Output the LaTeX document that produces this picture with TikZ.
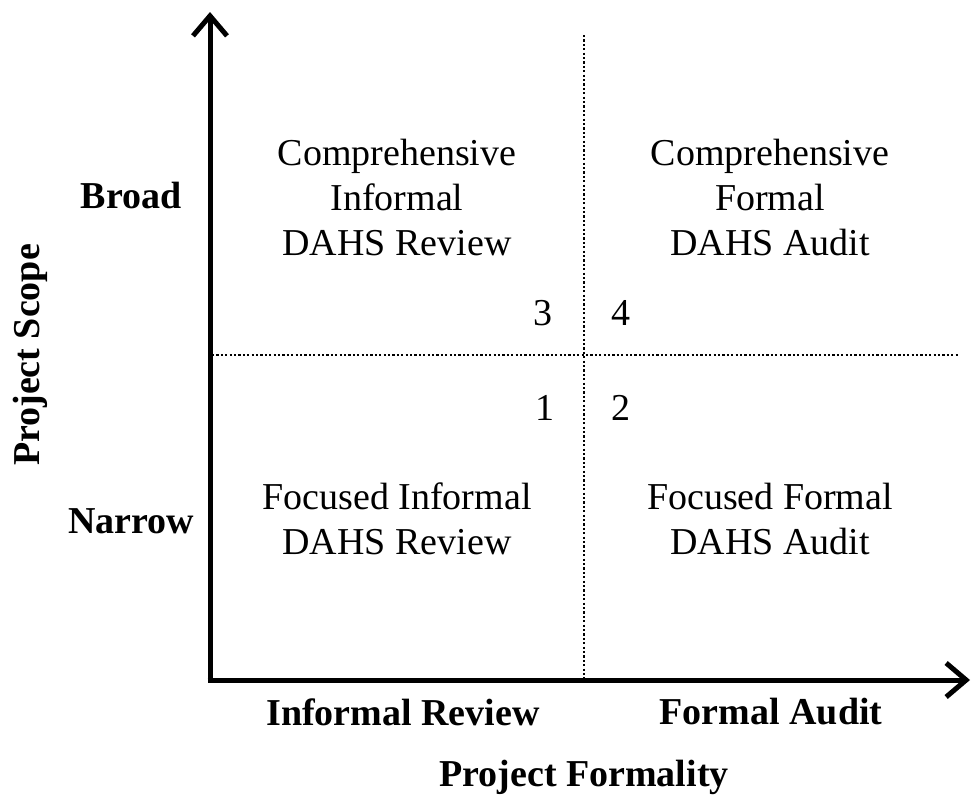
\documentclass[tikz,border=0pt]{standalone}
\usepackage{fontspec}
\setmainfont{Liberation Serif}
\usetikzlibrary{arrows.meta}
\begin{document}
\begin{tikzpicture}[x=1pt,y=-1pt,
  axis/.style={line width=5pt,-{Straight Barb[length=20pt,width=34pt,line width=5pt]}},
  grid/.style={line width=2.2pt,dash pattern=on 2.2pt off 2.2pt},
  cell/.style={align=center,font=\fontsize{38}{45}\selectfont,inner sep=0pt},
  num/.style={font=\fontsize{38}{44}\selectfont,inner sep=0pt},
  lab/.style={font=\fontsize{38}{44}\selectfont\bfseries,inner sep=0pt}]
\useasboundingbox (0,0) rectangle (972,795);
% axes
\coordinate (o) at (210,680);
\coordinate (ytop) at (210,12);
\coordinate (xend) at (970,680);
\draw[axis] (o) -- (ytop);
\draw[axis] ([xshift=-2.5pt]o) -- (xend);
% dividing lines
\coordinate (vtop) at (584,35);
\coordinate (vbot) at (584,680);
\coordinate (hl) at (212,355);
\coordinate (hr) at (958,355);
\draw[grid] (vtop) -- (vbot);
\draw[grid] (hl) -- (hr);
% quadrant texts
\node[cell] (q3) at (397,197) {Comprehensive\\Informal\\DAHS Review};
\node[cell] (q4) at (770,197) {Comprehensive\\Formal\\DAHS Audit};
\node[cell] (q1) at (397,519) {Focused Informal\\DAHS Review};
\node[cell] (q2) at (770,519) {Focused Formal\\DAHS Audit};
% quadrant numbers
\node[num] (n3) at (543,313) {3};
\node[num] (n4) at (621,313) {4};
\node[num] (n1) at (545,408) {1};
\node[num] (n2) at (621,408) {2};
% axis labels
\node[lab] (broad) at (131,196) {Broad};
\node[lab] (narrow) at (131,521) {Narrow};
\node[lab] (inf) at (403,712) {Informal Review};
\node[lab] (form) at (771,712) {Formal Audit};
\node[lab] (xt) at (584,777) {Project Formality};
\node[lab,rotate=90] (yt) at (30,355) {Project Scope};
\end{tikzpicture}
\end{document}
